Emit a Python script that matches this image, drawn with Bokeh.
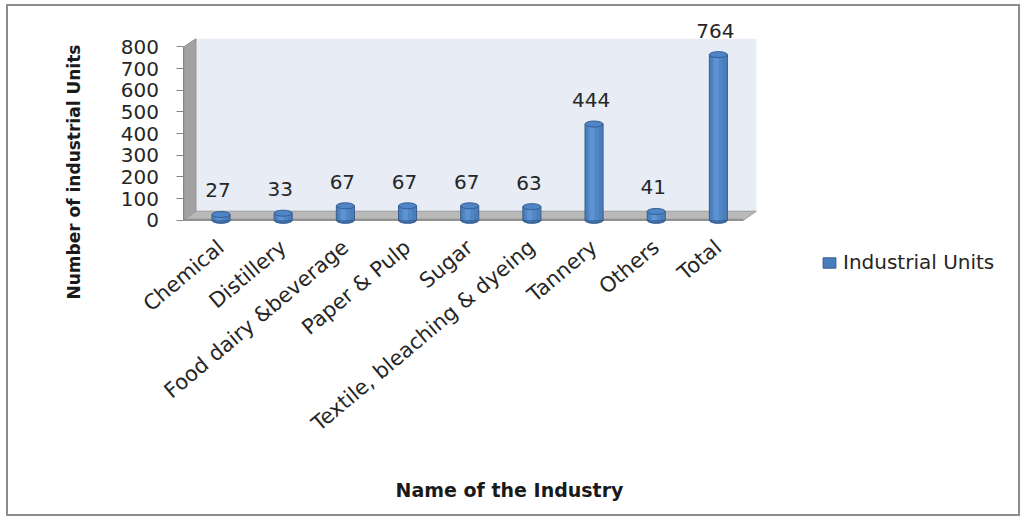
import math
from bokeh.plotting import figure
from bokeh.models import Range1d, FixedTicker, Legend, LegendItem, ColumnDataSource, Title
from bokeh.transform import dodge
from bokeh.embed import file_html
from bokeh.resources import INLINE
from bokeh.core.properties import value

# ---------------- data ----------------
categories = ["Chemical", "Distillery", "Food dairy &beverage", "Paper & Pulp", "Sugar",
              "Textile, bleaching & dyeing", "Tannery", "Others", "Total"]
units = [27, 33, 67, 67, 67, 63, 444, 41, 764]
y_ticks = [0, 100, 200, 300, 400, 500, 600, 700, 800]
series_name = "Industrial Units"
x_title = "Name of the Industry"
y_title = "Number of industrial Units"

# ---------------- geometry (page pixels) ----------------
PAGE_W, PAGE_H = 1028, 518
M_TOP, M_RIGHT, M_BOTTOM, M_LEFT = 4, 8, 2, 6
BORDER = 2
# plotting frame (covers walls, floor, tick labels, value labels and the legend area)
FRAME_L, FRAME_R, FRAME_T, FRAME_B = 97, 1016, 9, 466
AXIS_X = 183          # value axis line
AXIS_Y = 222          # where the category axis sits (just under the floor)
WALL_R = 753          # right end of the back wall / floor
CAT0_PX, CAT_STEP = 220.0, 61.9
ZERO_PX, TOP_PX = 218.0, 46.0
K = (ZERO_PX - TOP_PX) / y_ticks[-1]


def dx(px):
    return (px - CAT0_PX) / CAT_STEP


def dy(py):
    return (ZERO_PX - py) / K


canvas_l = M_LEFT + BORDER
canvas_t = M_TOP + BORDER
fig_w = PAGE_W - M_LEFT - M_RIGHT - 2 * BORDER
fig_h = PAGE_H - M_TOP - M_BOTTOM - 2 * BORDER
fw = FRAME_R - FRAME_L
fh = FRAME_B - FRAME_T
bl = FRAME_L - canvas_l
bt = FRAME_T - canvas_t

p = figure(width=fig_w, height=fig_h,
           x_range=Range1d(dx(FRAME_L), dx(FRAME_R)),
           y_range=Range1d(dy(FRAME_B), dy(FRAME_T)),
           min_border_left=bl, min_border_right=fig_w - bl - fw,
           min_border_top=bt, min_border_bottom=fig_h - bt - fh,
           output_backend="svg", toolbar_location=None)
p.margin = (M_TOP, M_RIGHT, M_BOTTOM, M_LEFT)
p.styles = {"border": "%dpx solid #8C8C8C" % BORDER, "box-sizing": "content-box"}
p.outline_line_color = None
p.xgrid.visible = False
p.ygrid.visible = False
p.background_fill_color = "white"
p.border_fill_color = "white"

FONT = "DejaVu Sans"

# ---------------- 3D walls / floor ----------------
p.quad(left=dx(195), right=dx(WALL_R), top=dy(38), bottom=dy(209),
       fill_color="#E7ECF5", line_color=None)
p.patch([dx(183), dx(195), dx(195), dx(183)], [dy(46), dy(38), dy(209), dy(218)],
        fill_color="#A2A2A2", line_color="#8F8F8F", line_width=1)
p.patch([dx(183), dx(195), dx(WALL_R), dx(WALL_R - 13)], [dy(218), dy(209), dy(209), dy(218)],
        fill_color="#B9B9B9", line_color="#9C9C9C", line_width=1)
p.segment(x0=[dx(183)], y0=[dy(217.5)], x1=[dx(WALL_R - 13)], y1=[dy(217.5)],
          line_color="#8E8E8E", line_width=2)

# ---------------- cylinders ----------------
src = ColumnDataSource(dict(x=list(range(len(categories))), cat=categories,
                            units=units, label=[str(v) for v in units]))
bw = 18 / CAT_STEP
p.ellipse(x="x", y=0, width=18, height=6, width_units="screen", height_units="screen",
          source=src, fill_color="#3F6FAA", line_color="#2F5A8E")
body = p.vbar(x="x", bottom=0, top="units", width=bw, source=src,
              fill_color="#4A7EBB", line_color="#385D8A", line_width=1)
p.vbar(x=dodge("x", -1.0 / CAT_STEP, range=p.x_range), bottom=0, top="units",
       width=11 / CAT_STEP, source=src, fill_color="#5186C6", line_color=None)
p.vbar(x=dodge("x", -2.0 / CAT_STEP, range=p.x_range), bottom=0, top="units",
       width=5 / CAT_STEP, source=src, fill_color="#5E93D3", line_color=None)
p.ellipse(x="x", y="units", width=18, height=6, width_units="screen", height_units="screen",
          source=src, fill_color="#4F85C6", line_color="#365E92")

# value labels
p.text(x="x", y="units", text="label", source=src, x_offset=-3, y_offset=-24,
       text_align="center", text_baseline="middle", text_font=value(FONT),
       text_font_size="20px", text_color="#262626")

# ---------------- axes ----------------
yax = p.yaxis[0]
yax.fixed_location = dx(AXIS_X)
yax.ticker = FixedTicker(ticks=y_ticks)
yax.bounds = (y_ticks[0], y_ticks[-1])
yax.axis_line_color = "#868686"
yax.major_tick_line_color = "#868686"
yax.major_tick_out = 7
yax.major_tick_in = 0
yax.minor_tick_line_color = None
yax.major_label_standoff = 18
yax.major_label_text_font = FONT
yax.major_label_text_font_size = "20px"
yax.major_label_text_color = "#262626"

xax = p.xaxis[0]
xax.fixed_location = dy(AXIS_Y)
xax.ticker = FixedTicker(ticks=list(range(len(categories))))
xax.major_label_overrides = {i: c for i, c in enumerate(categories)}
xax.major_label_orientation = math.radians(40)
xax.axis_line_color = None
xax.major_tick_line_color = None
xax.minor_tick_line_color = None
xax.major_label_standoff = 14
xax.major_label_text_font = FONT
xax.major_label_text_font_size = "21px"
xax.major_label_text_color = "#262626"

# axis titles (left-aligned with offsets so that they sit where the reference has them)
YT_SIZE, XT_SIZE = 17, 19
p.add_layout(Title(text=y_title, align="left", offset=FRAME_B - 295, standoff=28,
                   text_font=FONT, text_font_style="bold", text_font_size="%dpx" % YT_SIZE,
                   text_color="#1A1A1A"), "left")
p.add_layout(Title(text=x_title, align="left", offset=395 - FRAME_L, standoff=12,
                   text_font=FONT, text_font_style="bold", text_font_size="%dpx" % XT_SIZE,
                   text_color="#1A1A1A"), "below")

# legend (inside the frame, to the right of the chart)
legend = Legend(items=[LegendItem(label=series_name, renderers=[body])],
                location=(821 - FRAME_L, FRAME_B - 270),
                padding=0, margin=0, spacing=0, glyph_width=16, glyph_height=13,
                label_standoff=6, border_line_color=None, background_fill_alpha=0,
                label_text_font=FONT, label_text_font_size="20px",
                label_text_color="#262626")
p.add_layout(legend)

open("out.html", "w").write(file_html(p, INLINE))
